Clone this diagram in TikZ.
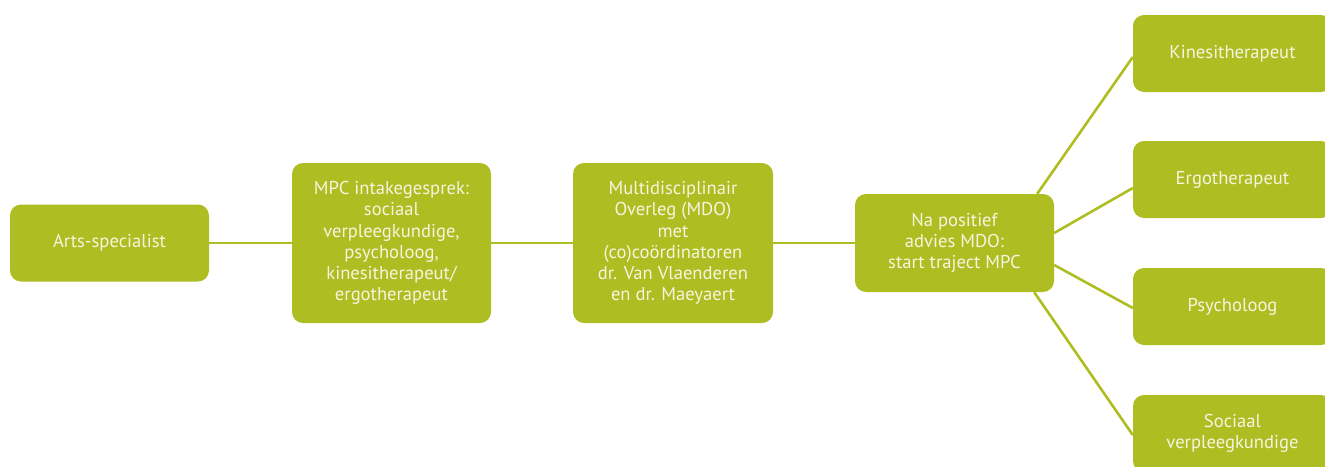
\documentclass[tikz,border=0pt]{standalone}
\usepackage{fontspec}
\setmainfont{PT Sans}
\usetikzlibrary{calc,backgrounds}
\definecolor{lime}{HTML}{AEBD21}
\definecolor{cream}{HTML}{F6F5E0}
\begin{document}
\begin{tikzpicture}[x=1pt,y=-1pt,
  box/.style={draw=none,fill=lime,rounded corners=11pt,inner sep=0pt,
    text=cream,align=center,font=\fontsize{18.6}{21.2}\selectfont},
  link/.style={draw=lime,line width=2.6pt}]
\useasboundingbox (0,0) rectangle (1325,466);
\clip (0,0) rectangle (1325,466);
\node[box,minimum width=199pt,minimum height=77pt] (arts) at (109.5,243) {Arts-specialist};
\node[box,minimum width=199pt,minimum height=160pt] (mpc) at (391.5,243) {MPC intakegesprek:\\sociaal\\verpleegkundige,\\psycholoog,\\kinesitherapeut/\\ergotherapeut};
\node[box,minimum width=200pt,minimum height=160pt] (mdo) at (673,243) {Multidisciplinair\\Overleg (MDO)\\met\\(co)coördinatoren\\dr. Van Vlaenderen\\en dr. Maeyaert};
\node[box,minimum width=199pt,minimum height=98pt] (na) at (954.5,243) {Na positief\\advies MDO:\\start traject MPC};
\node[box,minimum width=199pt,minimum height=77pt] (kin) at (1232.5,53.5) {Kinesitherapeut};
\node[box,minimum width=199pt,minimum height=77pt] (ergo) at (1232.5,179.5) {Ergotherapeut};
\node[box,minimum width=199pt,minimum height=77pt] (psy) at (1232.5,306.5) {Psycholoog};
\node[box,minimum width=199pt,minimum height=77pt] (soc) at (1232.5,433.5) {Sociaal\\verpleegkundige};
\begin{scope}[on background layer]
\draw[link] (arts.east) -- (mpc.west);
\draw[link] (mpc.east) -- (mdo.west);
\draw[link] (mdo.east) -- (na.west);
\draw[link] ($(na.north east)+(-17,0)$) -- ($(kin.west)+(0,3.5)$);
\draw[link] ($(na.east)+(0,-10)$) -- ($(ergo.west)+(0,8.5)$);
\draw[link] ($(na.east)+(0,22)$) -- ($(psy.west)+(0,1.5)$);
\draw[link] ($(na.south east)+(-20,0)$) -- ($(soc.west)+(0,1.5)$);
\end{scope}
\end{tikzpicture}
\end{document}
